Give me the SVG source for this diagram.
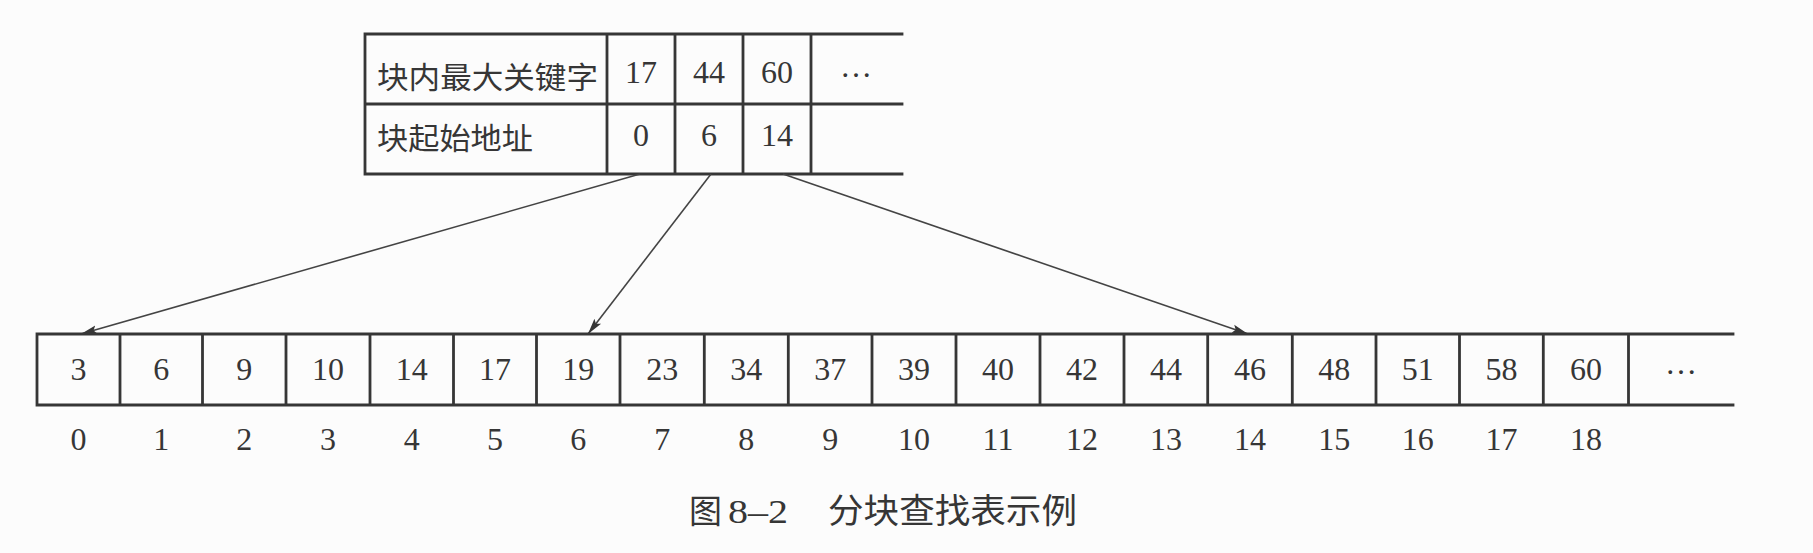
<svg xmlns="http://www.w3.org/2000/svg" width="1813" height="553" viewBox="0 0 1813 553">
<style>
.ln{stroke:#363636;stroke-width:2.8;fill:none;stroke-linecap:square}
.ar{stroke:#444;stroke-width:1.6;fill:none}
.num{font-family:"Liberation Serif","Times New Roman",serif;font-size:32px;fill:#363636;text-anchor:middle}
.cjk{font-family:"Noto Sans CJK SC","Noto Sans",sans-serif;font-size:30px;fill:#363636}
.cap{font-family:"Liberation Serif","Noto Sans CJK SC",serif;font-size:34px;fill:#363636}
</style>
<defs>
<marker id="ah" markerUnits="userSpaceOnUse" markerWidth="18" markerHeight="10" refX="16" refY="5" orient="auto">
<path d="M0,0.8 L16,5 L0,9.2 L3,5 Z" fill="#363636"/>
</marker>
</defs>
<rect width="1813" height="553" fill="#fcfcfc"/>

<g id="index-table">
<path class="ln" d="M365,34 H902 M365,104 H902 M365,174 H902 M365,34 V174 M607,34 V174 M675,34 V174 M743,34 V174 M811,34 V174"/>
<text class="cjk" x="377" y="88" textLength="221" lengthAdjust="spacingAndGlyphs">块内最大关键字</text>
<text class="cjk" x="377" y="149" textLength="156" lengthAdjust="spacingAndGlyphs">块起始地址</text>
<g class="num">
<text x="641" y="83">17</text>
<text x="709" y="83">44</text>
<text x="777" y="83">60</text>
<text x="856" y="77">…</text>
<text x="641" y="146">0</text>
<text x="709" y="146">6</text>
<text x="777" y="146">14</text>
</g>
</g>

<g id="connectors">
<line class="ar" x1="640" y1="174" x2="81" y2="334" marker-end="url(#ah)"/>
<line class="ar" x1="711" y1="174" x2="588" y2="334" marker-end="url(#ah)"/>
<line class="ar" x1="783" y1="174" x2="1248" y2="334" marker-end="url(#ah)"/>
</g>

<g id="array">
<path class="ln" d="M37,334 H1733 M37,405 H1733 M37,334 V405 M120,334 V405 M202.5,334 V405 M286,334 V405 M370,334 V405 M453.5,334 V405 M536.5,334 V405 M620,334 V405 M704.3,334 V405 M788.3,334 V405 M872,334 V405 M956,334 V405 M1040,334 V405 M1124,334 V405 M1207.7,334 V405 M1292.3,334 V405 M1376,334 V405 M1459.5,334 V405 M1543.3,334 V405 M1628.5,334 V405"/>
<g class="num">
<text x="78.5" y="380">3</text>
<text x="161.3" y="380">6</text>
<text x="244.3" y="380">9</text>
<text x="328" y="380">10</text>
<text x="411.8" y="380">14</text>
<text x="495" y="380">17</text>
<text x="578.3" y="380">19</text>
<text x="662.2" y="380">23</text>
<text x="746.3" y="380">34</text>
<text x="830.2" y="380">37</text>
<text x="914" y="380">39</text>
<text x="998" y="380">40</text>
<text x="1082" y="380">42</text>
<text x="1165.9" y="380">44</text>
<text x="1250" y="380">46</text>
<text x="1334.2" y="380">48</text>
<text x="1417.8" y="380">51</text>
<text x="1501.4" y="380">58</text>
<text x="1586" y="380">60</text>
<text x="1681" y="374">…</text>
</g>
</g>

<g id="indices" class="num">
<text x="78.5" y="450">0</text>
<text x="161.3" y="450">1</text>
<text x="244.3" y="450">2</text>
<text x="328" y="450">3</text>
<text x="411.8" y="450">4</text>
<text x="495" y="450">5</text>
<text x="578.3" y="450">6</text>
<text x="662.2" y="450">7</text>
<text x="746.3" y="450">8</text>
<text x="830.2" y="450">9</text>
<text x="914" y="450">10</text>
<text x="998" y="450">11</text>
<text x="1082" y="450">12</text>
<text x="1165.9" y="450">13</text>
<text x="1250" y="450">14</text>
<text x="1334.2" y="450">15</text>
<text x="1417.8" y="450">16</text>
<text x="1501.4" y="450">17</text>
<text x="1586" y="450">18</text>
</g>

<g id="caption">
<text class="cjk" x="689" y="523" style="font-size:33px">图</text>
<text class="cap" x="728" y="523" textLength="60" lengthAdjust="spacingAndGlyphs">8–2</text>
<text class="cjk" x="828" y="523" textLength="249" lengthAdjust="spacingAndGlyphs" style="font-size:34px">分块查找表示例</text>
</g>
</svg>
